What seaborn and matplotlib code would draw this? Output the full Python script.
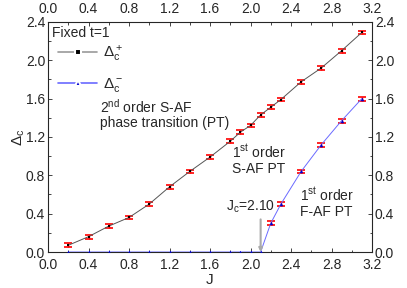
import matplotlib
matplotlib.use("Agg")
import matplotlib.pyplot as plt
import seaborn as sns
import pandas as pd
from matplotlib.ticker import MultipleLocator
from matplotlib.lines import Line2D

# data
J = [0.2, 0.4, 0.6, 0.8, 1.0, 1.2, 1.4, 1.6, 1.8, 1.9, 2.0, 2.1, 2.2, 2.3, 2.5, 2.7, 2.9, 3.1]
delta_plus = [0.07, 0.16, 0.27, 0.36, 0.50, 0.68, 0.84, 0.99, 1.155, 1.25, 1.32, 1.43, 1.51, 1.59, 1.775, 1.92, 2.10, 2.29]
delta_minus = [0, 0, 0, 0, 0, 0, 0, 0, 0, 0, 0, 0, 0.30, 0.50, 0.84, 1.12, 1.37, 1.60]
err_plus = [0.02] * len(J)

sns.set_style("ticks")
plt.rcParams['font.family'] = ['Liberation Sans', 'DejaVu Sans']
plt.rcParams['mathtext.fontset'] = 'custom'
plt.rcParams['mathtext.rm'] = 'Liberation Sans'
plt.rcParams['mathtext.it'] = 'Liberation Sans'
fs = 10

df = pd.DataFrame({'J': J, 'plus': delta_plus, 'minus': delta_minus})
pos = df[df['minus'] > 0]

fig = plt.figure(figsize=(4.07, 2.88), dpi=100)
ax = fig.add_axes([0.118, 0.125, 0.796, 0.799])

# error bars
ax.errorbar(df['J'], df['plus'], yerr=err_plus, fmt='none', ecolor='red', elinewidth=1.0,
            capsize=3, capthick=1.2, zorder=2)
ax.errorbar(pos['J'], pos['minus'], yerr=0.02, fmt='none', ecolor='red',
            elinewidth=1.0, capsize=3, capthick=1.2, zorder=2)

sns.lineplot(data=df, x='J', y='plus', ax=ax, color='#555555', lw=0.7, marker='s',
             markersize=2, markerfacecolor='black', markeredgewidth=0, zorder=3)
sns.lineplot(data=df, x='J', y='minus', ax=ax, color='#6a6aff', lw=0.7, marker='^',
             markersize=2.5, markerfacecolor='#0000cc', markeredgewidth=0, zorder=3)

ax.set_xlim(0, 3.2)
ax.set_ylim(0, 2.4)
ax.xaxis.set_major_locator(MultipleLocator(0.4))
ax.xaxis.set_minor_locator(MultipleLocator(0.2))
ax.yaxis.set_major_locator(MultipleLocator(0.4))
ax.yaxis.set_minor_locator(MultipleLocator(0.2))
ax.tick_params(which='both', direction='in', top=True, right=True,
               labeltop=True, labelright=True, labelsize=fs, width=0.6)
ax.tick_params(axis='x', which='both', pad=4.5)
ax.tick_params(axis='y', which='both', pad=2)
ax.tick_params(which='major', length=3)
ax.tick_params(which='minor', length=1.8)
for s in ax.spines.values():
    s.set_linewidth(0.8)
ax.set_xlabel('J', fontsize=fs + 1, labelpad=0.5)
ax.set_ylabel(r'$\Delta_{\rm c}$', fontsize=fs + 1, labelpad=-1)

# legend
ax.text(0.012, 0.952, 'Fixed t=1', transform=ax.transAxes, fontsize=fs,
        va='center', ha='left')
handles = [
    Line2D([], [], color='#999999', lw=1.2, marker='s', markersize=4.5,
           markerfacecolor='black', markeredgecolor='white', markeredgewidth=1.5),
    Line2D([], [], color='#6a6aff', lw=1.2, marker='^', markersize=5,
           markerfacecolor='#0000cc', markeredgecolor='white', markeredgewidth=1.5),
]
ax.legend(handles, [r'$\Delta^+_{\rm c}$', r'$\Delta^-_{\rm c}$'],
          loc='upper left', bbox_to_anchor=(0.03, 0.905), fontsize=fs + 1,
          frameon=False, borderaxespad=0, handlelength=2.6, labelspacing=0.8,
          handletextpad=0.35, borderpad=0)

ax.text(0.51, 1.44, '2$^{\\rm nd}$ order S-AF\nphase transition (PT)', fontsize=fs,
        va='center', ha='left', linespacing=1.1)
ax.text(1.82, 0.965, '1$^{\\rm st}$ order\nS-AF PT', fontsize=fs, va='center', ha='left',
        linespacing=1.1)
ax.text(2.49, 0.515, '1$^{\\rm st}$ order\nF-AF PT', fontsize=fs, va='center', ha='left',
        linespacing=1.1)
ax.text(1.76, 0.47, r'J$_{\rm c}$=2.10', fontsize=fs, va='center', ha='left')
ax.annotate('', xy=(2.1, 0.0), xytext=(2.1, 0.34),
            arrowprops=dict(arrowstyle='-|>', color='#aaaaaa', lw=1.5,
                            mutation_scale=5, shrinkA=0, shrinkB=0))

fig.savefig('out.png', dpi=100)
